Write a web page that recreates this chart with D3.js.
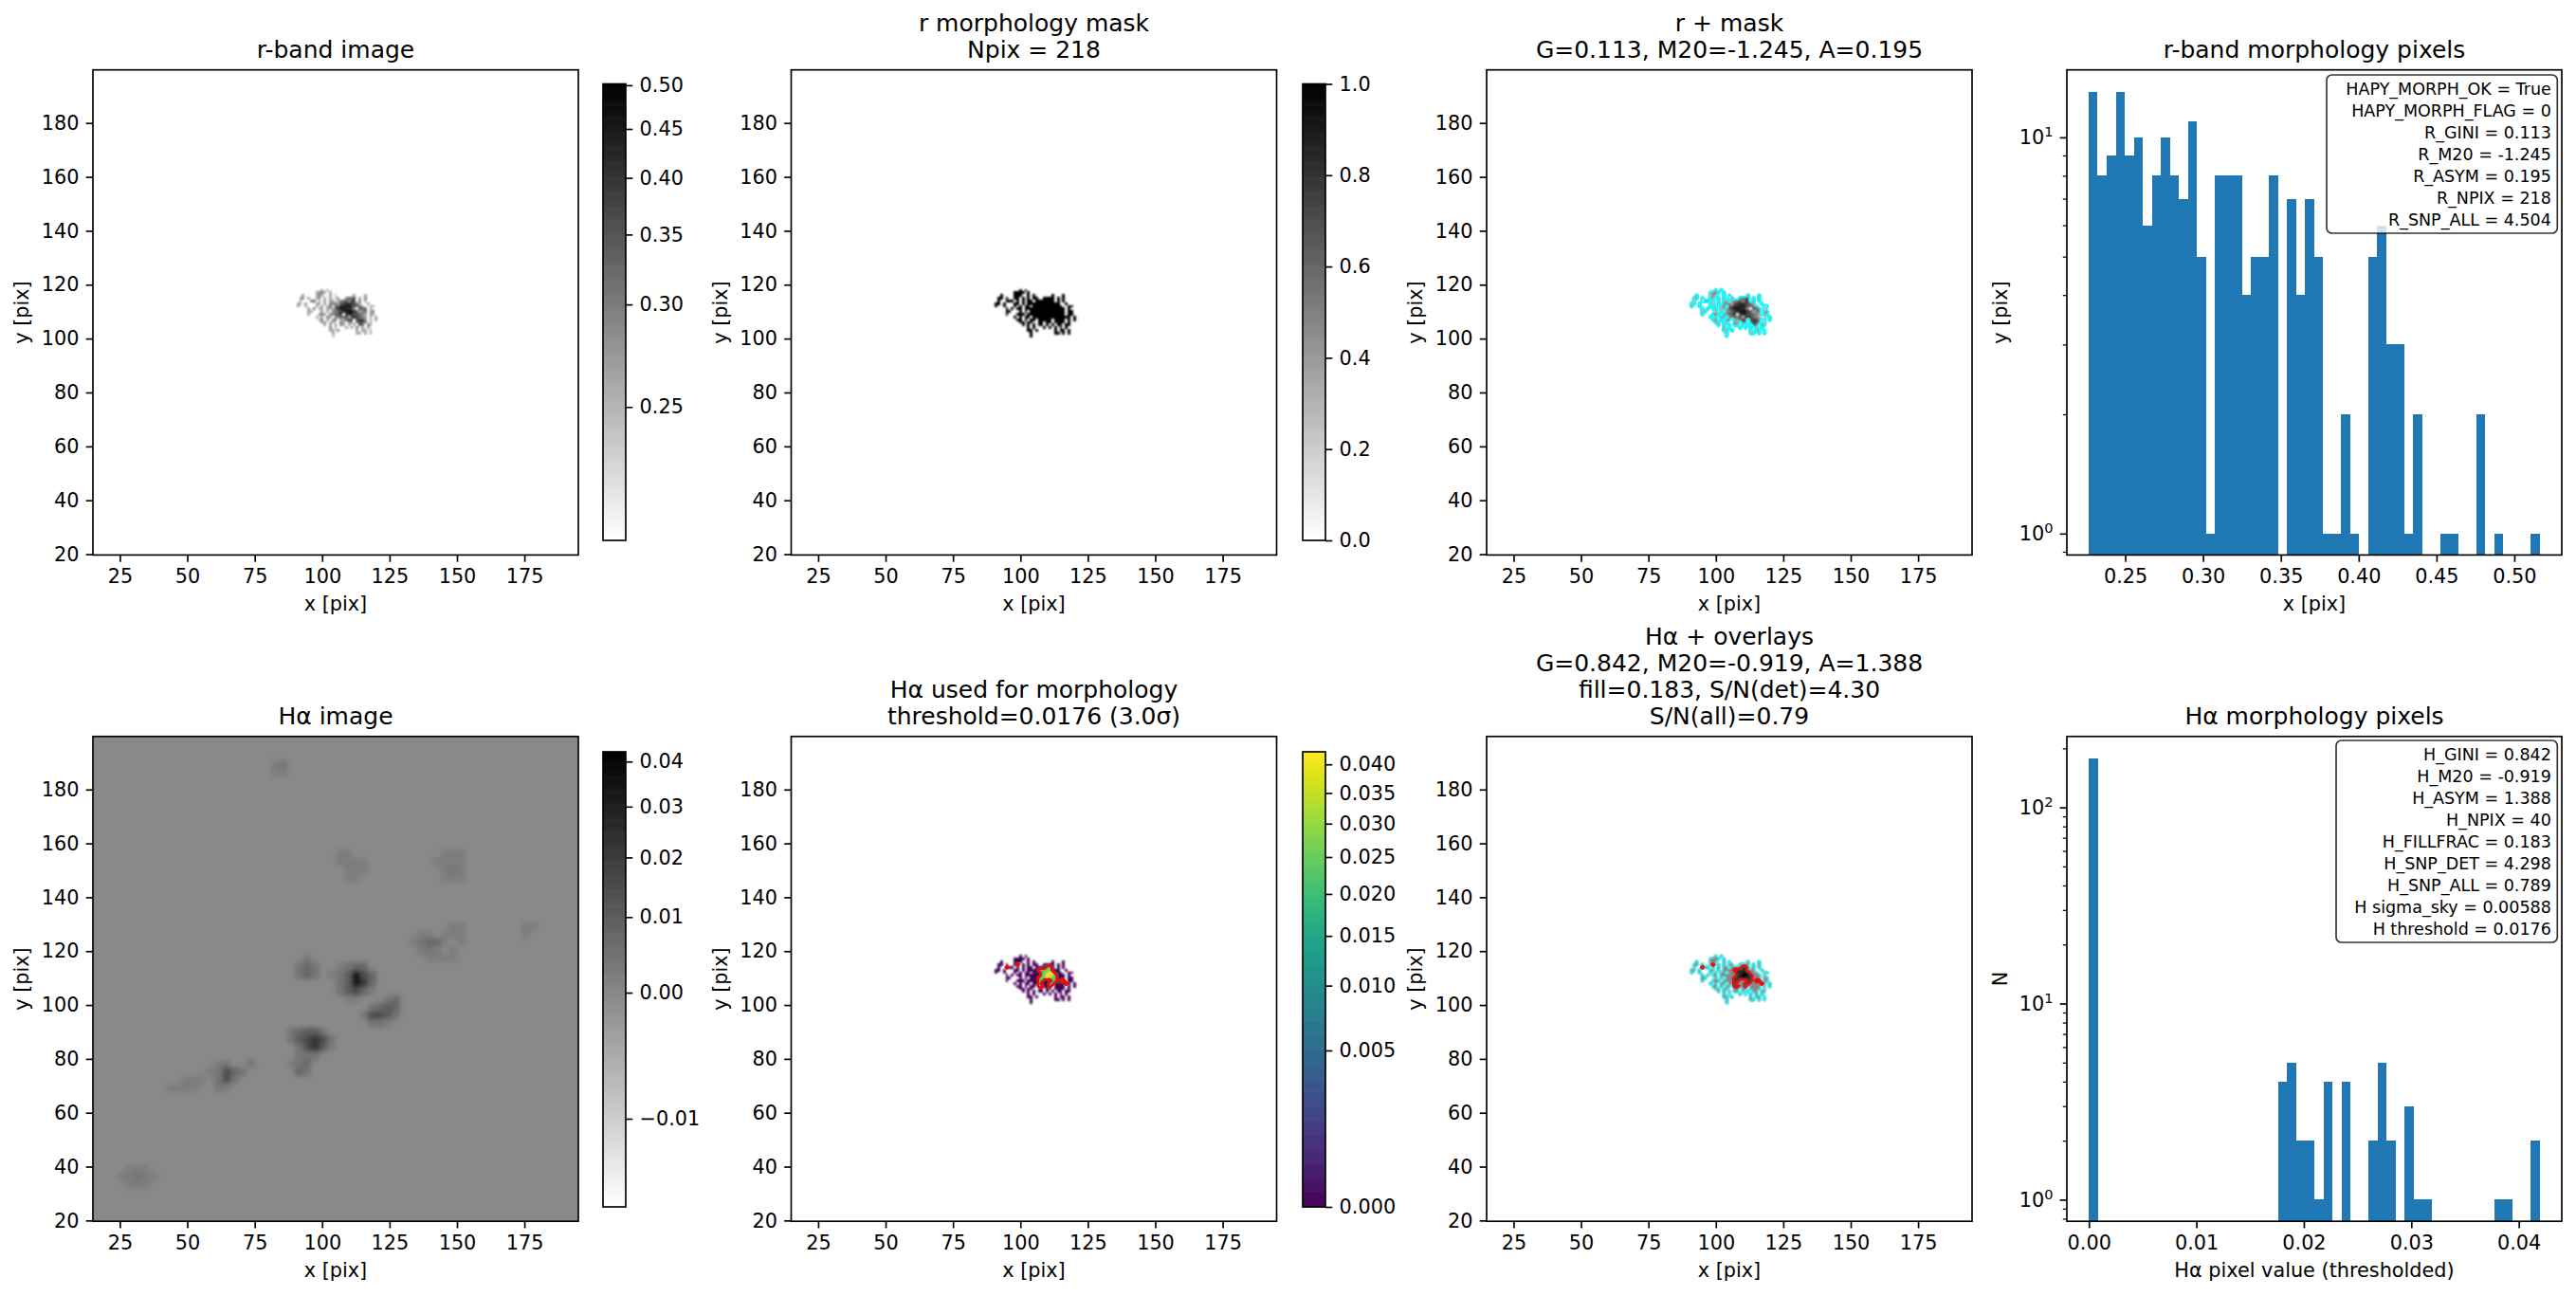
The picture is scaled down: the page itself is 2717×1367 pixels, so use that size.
<!DOCTYPE html>
<html>
<head>
<meta charset="utf-8">
<script src="https://cdn.jsdelivr.net/npm/d3@7"></script>
<style>
  body { margin: 0; background: #fff; }
  svg { display: block; font-family: "DejaVu Sans", sans-serif; }
  text { fill: #000; }
</style>
</head>
<body>
<div id="chart"></div>
<script>
// ---- data ----

const xTicks = [25, 50, 75, 100, 125, 150, 175];
const yTicks = [20, 40, 60, 80, 100, 120, 140, 160, 180];
const xLimits = [15, 195];
const yLimits = [19.7, 199.7];

// r-band cut-out around the galaxy: rows run from y=118 down, columns from x=90.
// "." is outside the mask, a digit is an index into rBandLevels
const cutoutTopY = 118;
const cutoutLeftX = 90;
const rBandLevels = [0.23, 0.235, 0.24, 0.26, 0.29, 0.32, 0.35, 0.385, 0.415, 0.46];
const rBandRows = [
  "..........3.3..................",
  "........3443.3.................",
  "...3....343..3.2......3...3....",
  "..34.3..34.3.3.23..4556.3.4....",
  "..3...45.3.3.33.3456477.4.3....",
  ".33.3...33.3.445367887653..3...",
  ".3..3...3.3.35.56889986653..33.",
  ".....3.4.33.33367998874.655.3..",
  ".....33...3.3.4457899986345.34.",
  ".....3...443.44568.79966543.43.",
  "........3.3.43.445563787543.3.3",
  ".........34.3.45.33576.6784.3.3",
  "..........34.33..43.45.5765.3..",
  "...........3.3.4.43.3.3.65.43..",
  ".............4.3...3.4.4.3.3...",
  ".............33.4......3.33.3..",
  "..............3........33.3.3..",
  "..............2................"
];

// H-alpha pixels above threshold, same cut-out. digit is an index into haLevels
const haLevels = [0, 0.0185, 0.02, 0.022, 0.025, 0.027, 0.03, 0.039, 0.042];
const haRows = [
  "",
  "",
  "",
  ".........1.....................",
  ".....1..............24.........",
  ".................13456.........",
  "..................24688........",
  "..................358863.......",
  ".................2357642.......",
  ".................12...32.21....",
  ".................2...23....1...",
  ".................21..2........."
];

// H-alpha image, 3 pixel blocks, rows from the top of the panel. Only the tone of
// the sky and the dark knots could be read, the pixel noise is not reproduced.
// "." is sky
const haSkyValue = -0.0005;
const haImageBlock = 3;
const haImageLevels = [-0.004, -0.002, 0, 0.002, 0.004, 0.007, 0.01, 0.015, 0.022, 0.035];
const haImageRows = [
  "", "", "",
  "......................34",
  "......................33",
  "", "", "", "", "", "", "", "", "",
  "..............................33...........333",
  "..............................3333........3333",
  "...............................333.........343",
  "...............................33..........333",
  "", "", "", "", "",
  "............................................33.......33",
  "........................................33.333.......3",
  ".......................................34553.3",
  "........................................343.3",
  "..........................4..............3333",
  ".........................454..3455",
  ".........................454.346975",
  "..............................46985",
  "..............................46753",
  "...............................33...45",
  "..................................4565",
  ".................................47764",
  "..................................443",
  "........................45664",
  "........................467874",
  ".........................47863",
  ".........................444",
  "...............34..4....345",
  "..............34754......54",
  "...........333.474",
  ".........3333..43",
  "", "", "", "", "", "", "", "", "",
  "....333",
  "...33433",
  "....333",
  "", "", "", ""
];

// histograms, 50 bins
const rHistCounts = [13, 8, 9, 13, 9, 10, 6, 8, 10, 8, 7, 11, 5, 1, 8, 8, 8, 4, 5, 5, 8, 0, 7, 4, 7,
  5, 1, 1, 2, 1, 0, 5, 6, 3, 3, 1, 2, 0, 0, 1, 1, 0, 0, 2, 0, 1, 0, 0, 0, 1];
const rHistRange = [0.2265, 0.5162];
const haHistCounts = [178, 0, 0, 0, 0, 0, 0, 0, 0, 0, 0, 0, 0, 0, 0, 0, 0, 0, 0, 0, 0, 4, 5, 2, 2,
  1, 4, 0, 4, 0, 0, 2, 5, 2, 0, 3, 1, 1, 0, 0, 0, 0, 0, 0, 0, 1, 1, 0, 0, 2];
const haHistRange = [0, 0.04195];

const rHistTicks = [0.25, 0.3, 0.35, 0.4, 0.45, 0.5];
const haHistTicks = [0, 0.01, 0.02, 0.03, 0.04];

// colour limits, all of the image panels use a sqrt stretch except the mask
const rLimits = [0.2265, 0.5016];
const haLimits = [-0.01204, 0.0423];
const haMorphLimits = [0, 0.0423];
const rBarTicks = [0.25, 0.3, 0.35, 0.4, 0.45, 0.5];
const maskBarTicks = [0, 0.2, 0.4, 0.6, 0.8, 1];
const haBarTicks = [-0.01, 0, 0.01, 0.02, 0.03, 0.04];
const haMorphBarTicks = [0, 0.005, 0.01, 0.015, 0.02, 0.025, 0.03, 0.035, 0.04];

const rStatLines = ["HAPY_MORPH_OK = True", "HAPY_MORPH_FLAG = 0", "R_GINI = 0.113", "R_M20 = -1.245",
  "R_ASYM = 0.195", "R_NPIX = 218", "R_SNP_ALL = 4.504"];
const haStatLines = ["H_GINI = 0.842", "H_M20 = -0.919", "H_ASYM = 1.388", "H_NPIX = 40", "H_FILLFRAC = 0.183",
  "H_SNP_DET = 4.298", "H_SNP_ALL = 0.789", "H sigma_sky = 0.00588", "H threshold = 0.0176"];

// ---- layout ----

const width = 2717, height = 1367;
const colLeft = [98, 834.5, 1568, 2180];
const colRight = [610, 1346.5, 2080, 2702];
const rowTop = [73.7, 776.8];
const rowBottom = [585.4, 1288.2];
const barCol = { 0: [636, 660], 1: [1374, 1398] };
const barRow = [[88.5, 570], [793, 1273]];

const lineW = 1.67, tickLen = 7.3, tickPad = 7.3;
const tickFont = 20.8, titleFont = 25, statFont = 17.5;
const barBlue = "#1f77b4";

const svg = d3.select("#chart").append("svg")
  .attr("width", width).attr("height", height)
  .attr("viewBox", "0 0 " + width + " " + height);

svg.append("rect").attr("width", width).attr("height", height).attr("fill", "#fff");

const defs = svg.append("defs");
defs.append("filter").attr("id", "soft")
  .append("feGaussianBlur").attr("stdDeviation", 0.9);
defs.append("filter").attr("id", "softer")
  .append("feGaussianBlur").attr("stdDeviation", 2.5);

// ---- cells from the rows ----

function cutoutCells(rows, levels) {
  const cells = [];
  rows.forEach((row, j) => {
    row.split("").forEach((ch, i) => {
      if (ch !== ".") cells.push({ x: cutoutLeftX + i, y: cutoutTopY - j, v: levels[+ch] });
    });
  });
  return cells;
}

const rCells = cutoutCells(rBandRows, rBandLevels);
const haCells = cutoutCells(haRows, haLevels);
const nCols = rBandRows[0].length, nRows = rBandRows.length;

// the mask is everything in r plus anything detected in H-alpha
const maskGrid = new Array(nCols * nRows).fill(0);
const haGrid = new Array(nCols * nRows).fill(0);
function gridIndex(c) { return (cutoutTopY - c.y) * nCols + (c.x - cutoutLeftX); }
rCells.forEach((c) => { maskGrid[gridIndex(c)] = 1; });
haCells.forEach((c) => { maskGrid[gridIndex(c)] = 1; haGrid[gridIndex(c)] = 1; });

const maskCells = [];
maskGrid.forEach((on, k) => {
  if (on) {
    maskCells.push({ x: cutoutLeftX + (k % nCols), y: cutoutTopY - Math.floor(k / nCols) });
  }
});
const haLookup = new Map(haCells.map((c) => [c.x + "," + c.y, c.v]));
const haMorphCells = maskCells.map((c) => ({ x: c.x, y: c.y, v: haLookup.get(c.x + "," + c.y) || 0 }));

const haImageCells = [];
haImageRows.forEach((row, r) => {
  row.split("").forEach((ch, c) => {
    if (ch !== ".") {
      haImageCells.push({
        x: xLimits[0] + (c + 0.5) * haImageBlock,
        y: yLimits[1] - (r + 0.5) * haImageBlock,
        v: haImageLevels[+ch]
      });
    }
  });
});

// ---- colour stretches ----

function stretch(limits, range) {
  // sqrt of the value above vmin
  const s = d3.scaleSqrt().domain([0, limits[1] - limits[0]]).range(range).clamp(true);
  return (v) => s(v - limits[0]);
}
const grayR = (t) => d3.rgb(255 * (1 - t), 255 * (1 - t), 255 * (1 - t)).formatHex();
const rColor = (v) => grayR(stretch(rLimits, [0, 1])(v));
const haColor = (v) => grayR(stretch(haLimits, [0, 1])(v));
const haMorphColor = (v) => d3.interpolateViridis(stretch(haMorphLimits, [0, 1])(v));

// ---- panel pieces ----

function panelFrame(col, row, clipId) {
  const g = svg.append("g");
  const x = d3.scaleLinear().domain(xLimits).range([colLeft[col], colRight[col]]);
  const y = d3.scaleLinear().domain(yLimits).range([rowBottom[row], rowTop[row]]);
  defs.append("clipPath").attr("id", clipId).append("rect")
    .attr("x", colLeft[col]).attr("y", rowTop[row])
    .attr("width", colRight[col] - colLeft[col])
    .attr("height", rowBottom[row] - rowTop[row]);
  const plot = g.append("g").attr("clip-path", "url(#" + clipId + ")");
  return { g, plot, x, y };
}

function drawCells(group, cells, x, y, color, size) {
  const half = (size || 1) / 2;
  group.selectAll("rect.cell")
    .data(cells)
    .join("rect")
    .attr("class", "cell")
    .attr("x", (d) => x(d.x - half))
    .attr("y", (d) => y(d.y + half))
    .attr("width", (d) => x(d.x + half) - x(d.x - half))
    .attr("height", (d) => y(d.y - half) - y(d.y + half))
    .attr("fill", (d) => color(d.v))
    .attr("shape-rendering", "crispEdges");
}

function drawContour(group, grid, x, y, color, strokeW, opacity) {
  const contours = d3.contours().size([nCols, nRows]).thresholds([0.5])(grid);
  const project = d3.geoTransform({
    point: function (px, py) {
      this.stream.point(x(cutoutLeftX - 0.5 + px), y(cutoutTopY + 0.5 - py));
    }
  });
  group.append("path")
    .attr("d", d3.geoPath(project)(contours[0]))
    .attr("fill", "none")
    .attr("stroke", color)
    .attr("stroke-width", strokeW)
    .attr("stroke-opacity", opacity)
    .attr("stroke-linejoin", "round");
}

function styleAxis(a) {
  a.select(".domain").remove();
  a.selectAll(".tick line").attr("stroke", "#000").attr("stroke-width", lineW);
  a.selectAll(".tick text").attr("font-size", tickFont).attr("fill", "#000");
  a.attr("font-family", null);
}

function frameBox(col, row) {
  svg.append("rect")
    .attr("x", colLeft[col]).attr("y", rowTop[row])
    .attr("width", colRight[col] - colLeft[col])
    .attr("height", rowBottom[row] - rowTop[row])
    .attr("fill", "none").attr("stroke", "#000").attr("stroke-width", lineW);
}

function titleLines(col, row, lines) {
  const cx = (colLeft[col] + colRight[col]) / 2;
  lines.slice().reverse().forEach((line, i) => {
    svg.append("text")
      .attr("x", cx).attr("y", rowTop[row] - 12.5 - i * 28)
      .attr("text-anchor", "middle").attr("font-size", titleFont)
      .text(line);
  });
}

function axisLabels(col, row, xText, yText, yOffset) {
  svg.append("text")
    .attr("x", (colLeft[col] + colRight[col]) / 2).attr("y", rowBottom[row] + 58.5)
    .attr("text-anchor", "middle").attr("font-size", tickFont)
    .text(xText);
  svg.append("text")
    .attr("transform", "translate(" + (colLeft[col] - yOffset) + "," + (rowTop[row] + rowBottom[row]) / 2 + ") rotate(-90)")
    .attr("text-anchor", "middle").attr("font-size", tickFont)
    .text(yText);
}

function imageAxes(col, row, p) {
  const ax = svg.append("g").attr("transform", "translate(0," + rowBottom[row] + ")")
    .call(d3.axisBottom(p.x).tickValues(xTicks).tickSize(tickLen).tickPadding(tickPad));
  styleAxis(ax);
  const ay = svg.append("g").attr("transform", "translate(" + colLeft[col] + ",0)")
    .call(d3.axisLeft(p.y).tickValues(yTicks).tickSize(tickLen).tickPadding(tickPad));
  styleAxis(ay);
  frameBox(col, row);
  axisLabels(col, row, "x [pix]", "y [pix]", 68);
}

function colorBar(col, row, limits, ticks, fmt, color, linear) {
  const [x0, x1] = barCol[col];
  const [top, bottom] = barRow[row];
  const pos = linear
    ? d3.scaleLinear().domain(limits).range([bottom, top])
    : stretch(limits, [bottom, top]);
  const steps = d3.range(256);
  svg.append("g").selectAll("rect")
    .data(steps)
    .join("rect")
    .attr("x", x0).attr("width", x1 - x0)
    .attr("y", (i) => top + (bottom - top) * i / 256)
    .attr("height", (bottom - top) / 256 + 0.6)
    .attr("fill", (i) => color(1 - (i + 0.5) / 256));
  // offset scale so that d3.axisRight can place the stretched ticks
  const axisScale = d3.scaleIdentity();
  const a = svg.append("g").attr("transform", "translate(" + x1 + ",0)")
    .call(d3.axisRight(axisScale)
      .tickValues(ticks.map(pos))
      .tickFormat((d, i) => d3.format(fmt)(ticks[i]))
      .tickSize(tickLen).tickPadding(tickPad));
  styleAxis(a);
  svg.append("rect")
    .attr("x", x0).attr("y", top).attr("width", x1 - x0).attr("height", bottom - top)
    .attr("fill", "none").attr("stroke", "#000").attr("stroke-width", lineW);
}

function histPanel(col, row, counts, range, xDomain, yDomain, ticks, majors, minors, stats, box, firstBaseline) {
  const x = d3.scaleLinear().domain(xDomain).range([colLeft[col], colRight[col]]);
  const y = d3.scaleLog().domain(yDomain).range([rowBottom[row], rowTop[row]]);
  const binW = (range[1] - range[0]) / counts.length;
  const clipId = "clip-hist-" + row;
  defs.append("clipPath").attr("id", clipId).append("rect")
    .attr("x", colLeft[col]).attr("y", rowTop[row])
    .attr("width", colRight[col] - colLeft[col])
    .attr("height", rowBottom[row] - rowTop[row]);

  svg.append("g").attr("clip-path", "url(#" + clipId + ")")
    .selectAll("rect")
    .data(counts.map((n, i) => ({ n, i })).filter((d) => d.n > 0))
    .join("rect")
    .attr("x", (d) => x(range[0] + d.i * binW))
    .attr("width", (d) => x(range[0] + (d.i + 1) * binW) - x(range[0] + d.i * binW))
    .attr("y", (d) => y(d.n))
    .attr("height", (d) => rowBottom[row] - y(d.n))
    .attr("fill", barBlue)
    .attr("shape-rendering", "crispEdges");

  const ax = svg.append("g").attr("transform", "translate(0," + rowBottom[row] + ")")
    .call(d3.axisBottom(x).tickValues(ticks).tickFormat(d3.format(".2f")).tickSize(tickLen).tickPadding(tickPad));
  styleAxis(ax);

  const minorAxis = svg.append("g").attr("transform", "translate(" + colLeft[col] + ",0)")
    .call(d3.axisLeft(y).tickValues(minors).tickFormat("").tickSize(4.2));
  styleAxis(minorAxis);
  minorAxis.selectAll(".tick line").attr("stroke-width", 1.25);

  const majorAxis = svg.append("g").attr("transform", "translate(" + colLeft[col] + ",0)")
    .call(d3.axisLeft(y).tickValues(majors).tickFormat("").tickSize(tickLen).tickPadding(tickPad));
  styleAxis(majorAxis);
  majorAxis.selectAll(".tick text").each(function (d) {
    const t = d3.select(this);
    t.append("tspan").text("10");
    t.append("tspan").attr("font-size", tickFont * 0.7).attr("dy", "-0.55em").text(Math.round(Math.log10(d)));
  });

  frameBox(col, row);

  // stats box
  svg.append("rect")
    .attr("x", box[0]).attr("y", box[1]).attr("width", box[2]).attr("height", box[3])
    .attr("rx", 5.5).attr("ry", 5.5)
    .attr("fill", "#fff").attr("fill-opacity", 0.8)
    .attr("stroke", "#000").attr("stroke-opacity", 0.8).attr("stroke-width", lineW);
  svg.append("g").selectAll("text")
    .data(stats)
    .join("text")
    .attr("x", box[0] + box[2] - 6.5)
    .attr("y", (d, i) => firstBaseline + i * 23)
    .attr("text-anchor", "end")
    .attr("font-size", statFont)
    .text((d) => d);
}

// ---- row 1 ----

const p00 = panelFrame(0, 0, "clip00");
drawCells(p00.plot.append("g").attr("filter", "url(#soft)"), rCells, p00.x, p00.y, rColor);
imageAxes(0, 0, p00);
titleLines(0, 0, ["r-band image"]);
colorBar(0, 0, rLimits, rBarTicks, ".2f", grayR);

const p01 = panelFrame(1, 0, "clip01");
drawCells(p01.plot.append("g").attr("filter", "url(#soft)"), maskCells, p01.x, p01.y, () => "#000");
imageAxes(1, 0, p01);
titleLines(1, 0, ["r morphology mask", "Npix = 218"]);
colorBar(1, 0, [0, 1], maskBarTicks, ".1f", grayR, true);

const p02 = panelFrame(2, 0, "clip02");
drawCells(p02.plot.append("g").attr("filter", "url(#soft)"), rCells, p02.x, p02.y, rColor);
drawContour(p02.plot, maskGrid, p02.x, p02.y, "#00ffff", 2, 0.9);
imageAxes(2, 0, p02);
titleLines(2, 0, ["r + mask", "G=0.113, M20=-1.245, A=0.195"]);

histPanel(3, 0, rHistCounts, rHistRange, [0.2125, 0.5305], [0.883, 14.8], rHistTicks, [1, 10],
  [0.9, 2, 3, 4, 5, 6, 7, 8, 9], rStatLines, [2454, 79, 243.3, 167], 99.5);
axisLabels(3, 0, "x [pix]", "y [pix]", 63);
titleLines(3, 0, ["r-band morphology pixels"]);

// ---- row 2 ----

const p10 = panelFrame(0, 1, "clip10");
p10.plot.append("rect")
  .attr("x", colLeft[0]).attr("y", rowTop[1])
  .attr("width", colRight[0] - colLeft[0]).attr("height", rowBottom[1] - rowTop[1])
  .attr("fill", haColor(haSkyValue));
drawCells(p10.plot.append("g").attr("filter", "url(#softer)"), haImageCells, p10.x, p10.y, haColor, haImageBlock);
imageAxes(0, 1, p10);
titleLines(0, 1, ["H\u03b1 image"]);
colorBar(0, 1, haLimits, haBarTicks, ".2f", grayR);

const p11 = panelFrame(1, 1, "clip11");
drawCells(p11.plot.append("g").attr("filter", "url(#soft)"), haMorphCells, p11.x, p11.y, haMorphColor);
drawContour(p11.plot, haGrid, p11.x, p11.y, "#ff0000", 2.5, 1);
imageAxes(1, 1, p11);
titleLines(1, 1, ["H\u03b1 used for morphology", "threshold=0.0176 (3.0\u03c3)"]);
colorBar(1, 1, haMorphLimits, haMorphBarTicks, ".3f", d3.interpolateViridis);

const p12 = panelFrame(2, 1, "clip12");
drawCells(p12.plot.append("g").attr("filter", "url(#soft)"), haMorphCells, p12.x, p12.y, haColor);
drawContour(p12.plot, maskGrid, p12.x, p12.y, "#00ffff", 2, 0.6);
drawContour(p12.plot, haGrid, p12.x, p12.y, "#ff0000", 2.5, 0.9);
imageAxes(2, 1, p12);
titleLines(2, 1, ["H\u03b1 + overlays", "G=0.842, M20=-0.919, A=1.388", "fill=0.183, S/N(det)=4.30", "S/N(all)=0.79"]);

histPanel(3, 1, haHistCounts, haHistRange, [-0.00205, 0.044], [0.776, 230], haHistTicks, [1, 10, 100],
  [0.8, 0.9, 2, 3, 4, 5, 6, 7, 8, 9, 20, 30, 40, 50, 60, 70, 80, 90, 200], haStatLines, [2464, 781, 233.3, 213], 802.2);
axisLabels(3, 1, "H\u03b1 pixel value (thresholded)", "N", 63);
titleLines(3, 1, ["H\u03b1 morphology pixels"]);
</script>
</body>
</html>
